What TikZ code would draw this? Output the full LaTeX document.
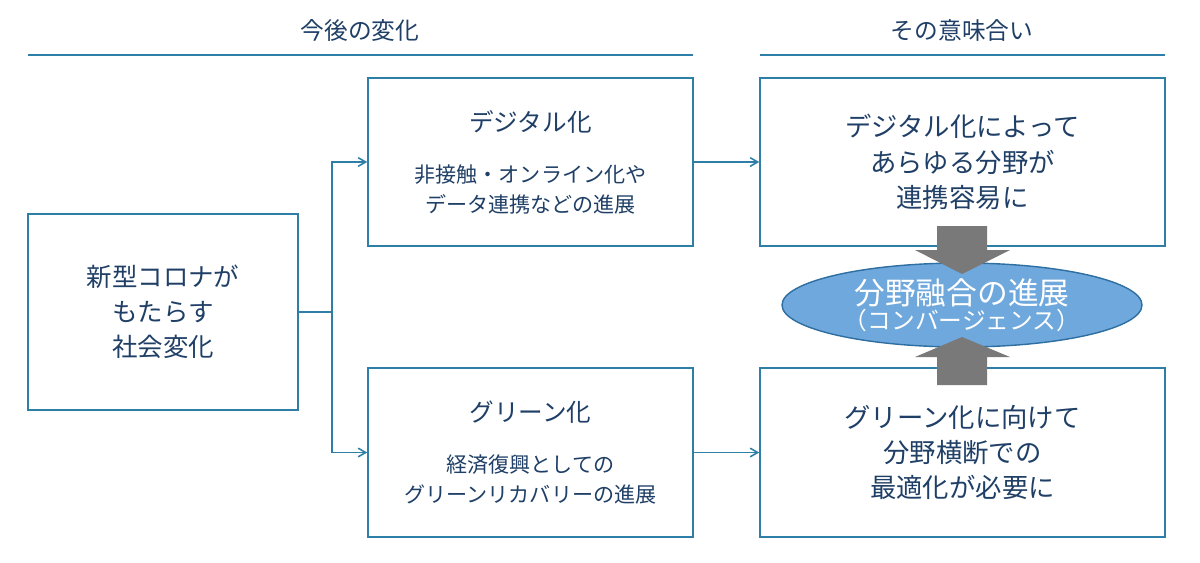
\documentclass[tikz,border=0pt]{standalone}
\usepackage{fontspec}
\setmainfont{Noto Sans CJK JP}
\usetikzlibrary{positioning, arrows, shapes.geometric}
\definecolor{lineblue}{HTML}{2E7FA8}
\definecolor{textblue}{HTML}{1F3F66}
\definecolor{ellfill}{HTML}{6FA8DC}
\definecolor{ellline}{HTML}{2E6EA0}
\begin{document}
\begin{tikzpicture}[x=0.02cm,y=-0.02cm]
\tikzstyle{box}=[draw=lineblue, line width=0.9pt, inner sep=0pt, text=textblue, align=center]
\tikzstyle{conn}=[draw=lineblue, line width=0.9pt, ->, >=angle 60]
\useasboundingbox (0,0) rectangle (1200,562);
% headers
\node [text=textblue, font=\fontsize{13.5}{15}\selectfont] (hleft) at (360,30) {今後の変化};
\node [text=textblue, font=\fontsize{13.5}{15}\selectfont] (hright) at (962,30) {その意味合い};
\draw [lineblue, line width=0.9pt] (28,55) -- (693,55);
\draw [lineblue, line width=0.9pt] (760,55) -- (1165,55);
% boxes
\node [box, minimum width=270*0.02cm, minimum height=196*0.02cm, font=\fontsize{14.5}{20}\selectfont] (society) at (163,312) {新型コロナが\\もたらす\\社会変化};
\node [box, minimum width=325*0.02cm, minimum height=168*0.02cm, font=\fontsize{12}{17}\selectfont] (digital) at (530.5,162) {{\fontsize{14}{16}\selectfont デジタル化}\\[12pt]非接触・オンライン化や\\データ連携などの進展};
\node [box, minimum width=325*0.02cm, minimum height=169*0.02cm, font=\fontsize{12}{17}\selectfont] (green) at (530.5,452.5) {{\fontsize{14}{16}\selectfont グリーン化}\\[12pt]経済復興としての\\グリーンリカバリーの進展};
\node [box, minimum width=405*0.02cm, minimum height=168*0.02cm, font=\fontsize{15}{20}\selectfont] (link) at (962.5,162) {デジタル化によって\\あらゆる分野が\\連携容易に};
\node [box, minimum width=405*0.02cm, minimum height=169*0.02cm, font=\fontsize{15}{20}\selectfont] (optimize) at (962.5,452.5) {グリーン化に向けて\\分野横断での\\最適化が必要に};
% ellipse
\node [ellipse, draw=ellline, fill=ellfill, line width=0.8pt, minimum width=360*0.02cm, minimum height=84*0.02cm, inner sep=0pt, text=white, align=center] (convergence) at (962,305) {{\fontsize{17.5}{20}\selectfont 分野融合の進展}\\{\fontsize{13.5}{15}\selectfont （コンバージェンス）}};
% fat arrows
\fill [gray!95!black] (937,226) -- (987,226) -- (987,250) -- (1010,250) -- (962,274) -- (915,250) -- (937,250) -- cycle;
\fill [gray!95!black] (937,385) -- (987,385) -- (987,357) -- (1010,357) -- (962,337) -- (915,357) -- (937,357) -- cycle;
% connectors
\coordinate (split) at (332,312);
\draw [lineblue, line width=0.9pt] (society.east) -- (split);
\draw [conn] (split) |- (digital.west);
\draw [conn] (split) |- (green.west);
\draw [conn] (digital.east) -- (link.west);
\draw [conn] (green.east) -- (optimize.west);
\end{tikzpicture}
\end{document}
